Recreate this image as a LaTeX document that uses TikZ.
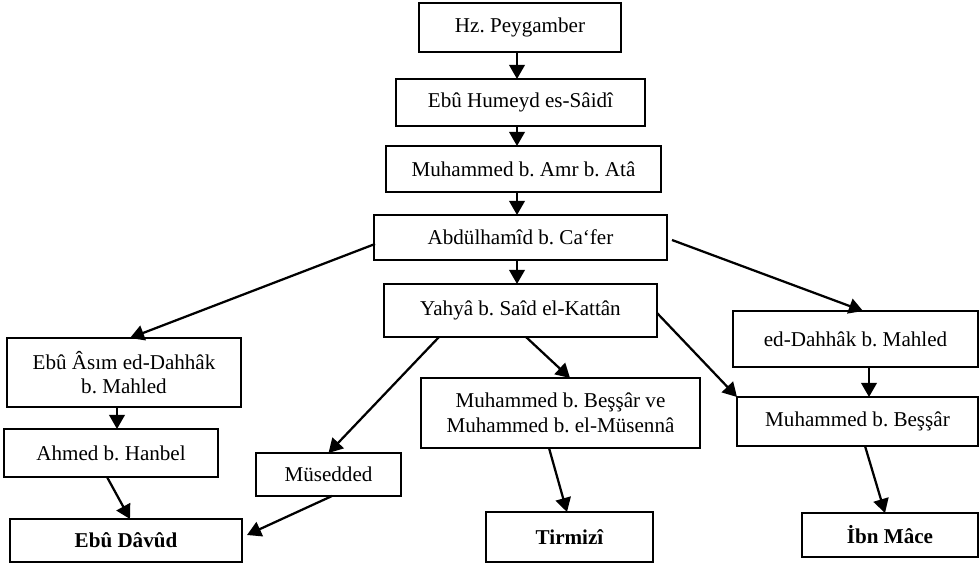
\documentclass[tikz,border=0pt]{standalone}
\usepackage{fontspec}
\setmainfont{Liberation Serif}
\usepackage{tikz}
\usetikzlibrary{arrows.meta,calc}
\frenchspacing

\begin{document}
\begin{tikzpicture}[x=0.025cm,y=-0.025cm,
  box/.style={draw,line width=0.9pt,rectangle,inner sep=2pt,outer sep=0pt,align=center,font=\fontsize{15}{17.5}\selectfont},
  namebox/.style={box,font=\fontsize{15}{17.5}\selectfont\bfseries},
  boxsize/.style 2 args={minimum width=#1*0.025cm,minimum height=#2*0.025cm},
  arr/.style={line width=1.6pt,-{Triangle[length=10pt,width=11pt]}}]
\useasboundingbox (0,0) rectangle (979,565);

%chain
\node [box,boxsize={202}{49}] (hz) at (520,27.5) {Hz. Peygamber};
\node [box,boxsize={249}{47}] (humeyd) at (520.5,102.5) {Ebû Humeyd es-Sâidî};
\node [box,boxsize={275}{46}] (amr) at (523.5,169) {Muhammed b. Amr b. Atâ};
\node [box,boxsize={293}{45}] (abdul) at (520.5,237.5) {Abdülhamîd b. Ca‘fer};
\node [box,boxsize={273}{53}] (yahya) at (520.5,310.5) {Yahyâ b. Saîd el-Kattân};

%left
\node [box,boxsize={234}{69}] (asim) at (124,372.5) {Ebû Âsım ed-Dahhâk\\b. Mahled};
\node [box,boxsize={214}{48}] (hanbel) at (111,453) {Ahmed b. Hanbel};
\node [box,boxsize={145}{43}] (musedded) at (328.5,474.5) {Müsedded};
\node [namebox,boxsize={232}{43}] (davud) at (126,540.5) {Ebû Dâvûd};

%middle
\node [box,boxsize={279}{70}] (ikimuh) at (560.5,413) {Muhammed b. Beşşâr ve\\Muhammed b. el-Müsennâ};
\node [namebox,boxsize={167}{50}] (tirmizi) at (569.5,537) {Tirmizî};

%right
\node [box,boxsize={245}{56}] (dahhak) at (855.5,339) {ed-Dahhâk b. Mahled};
\node [box,boxsize={241}{49}] (bessar) at (857.5,421.5) {Muhammed b. Beşşâr};
\node [namebox,boxsize={176}{44}] (ibnmace) at (890,535) {İbn Mâce};

%down arrows
\coordinate (mid) at (517,0);
\coordinate (leftcol) at (117,0);
\coordinate (rightcol) at (869,0);
\draw [arr] (hz.south -| mid) -- (humeyd.north -| mid);
\draw [arr] (humeyd.south -| mid) -- (amr.north -| mid);
\draw [arr] (amr.south -| mid) -- (abdul.north -| mid);
\draw [arr] (abdul.south -| mid) -- (yahya.north -| mid);
\draw [arr] (asim.south -| leftcol) -- (hanbel.north -| leftcol);
\draw [arr] (dahhak.south -| rightcol) -- (bessar.north -| rightcol);

%branches
\draw [arr] ($(abdul.west)+(1,6.5)$) -- ($(asim.north)+(6,0)$);
\draw [arr] ($(abdul.east)+(5,2.5)$) -- ($(dahhak.north)+(7.5,0)$);
\draw [arr] ($(yahya.south)+(-81.5,0)$) -- (musedded.north);
\draw [arr] ($(yahya.south)+(5.5,0)$) -- ($(ikimuh.north)+(9.5,0)$);
\draw [arr] ($(yahya.east)+(0,2.5)$) -- (bessar.north west);
\draw [arr] ($(hanbel.south)+(-4,0)$) -- ($(davud.north)+(4,0)$);
\draw [arr] ($(musedded.south)+(3.5,0)$) -- ($(davud.east)+(5,-5.5)$);
\draw [arr] ($(ikimuh.south)+(-11.5,0)$) -- ($(tirmizi.north)+(-2.5,0)$);
\draw [arr] ($(bessar.south)+(7.5,0)$) -- ($(ibnmace.north)+(-5,0)$);
\end{tikzpicture}
\end{document}
